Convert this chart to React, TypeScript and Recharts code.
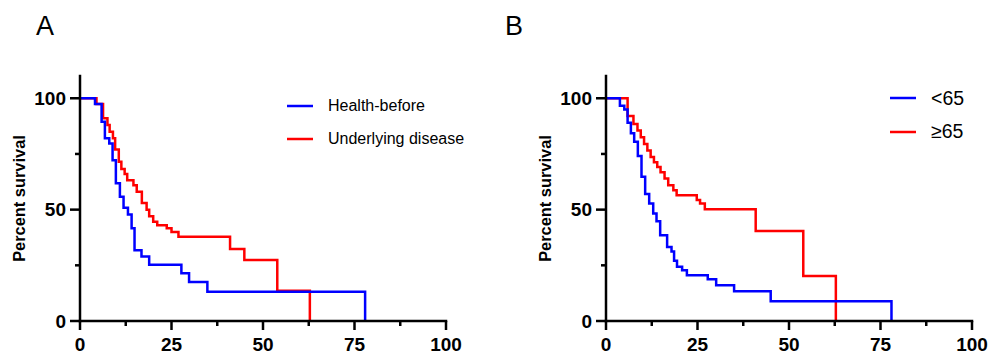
import { LineChart, Line, XAxis, YAxis, Legend } from 'recharts';

// Panel A: Health-before vs Underlying disease (time, percent survival)
const healthT = [0, 4.1, 5.9, 6.8, 8, 8.9, 9.8, 10.9, 11.9, 13.1, 14.1, 14.9, 16.8, 18.9, 27.7, 29.8, 34.8, 77.9];
const healthS = [100, 97.4, 89.5, 82, 79.7, 72.2, 61.8, 55.8, 50.8, 47.8, 41.6, 31.8, 29, 25.3, 21.4, 17.5, 13.1, 0];

const diseaseT = [0, 4.5, 6.3, 7.5, 8.1, 9.0, 9.6, 10.6, 11.3, 12.2, 12.9, 14.6, 15.5, 16.9, 18.2, 18.9, 20, 21.1, 23.7, 25, 26.9, 41, 44.9, 53.9, 62.8];
const diseaseS = [100, 97.4, 91, 88, 85, 82, 77, 71.5, 68.3, 66, 63.2, 61, 58, 53, 50, 47, 44.6, 43, 41.6, 40, 37.8, 32.3, 27.4, 13.6, 0];

// Panel B: <65 vs ≥65
const youngT = [0, 3.8, 5, 5.9, 6.8, 7.7, 8.7, 9.7, 10.7, 11.8, 12.9, 13.8, 14.8, 16.7, 17.9, 18.6, 19.4, 20.8, 22.1, 27.8, 30.1, 35, 45, 78];
const youngS = [100, 96.6, 95, 89, 84.3, 80.5, 74.1, 64.8, 57, 52.7, 48.3, 44.8, 38.5, 33.2, 31.2, 27, 24.4, 22.8, 20.5, 18.7, 16, 13.4, 8.9, 0];

const oldT = [0, 5.9, 7.5, 8.6, 9.5, 10.4, 11.3, 12.2, 13.1, 14.0, 14.9, 16.0, 17.0, 18.4, 19.3, 24.8, 25.7, 27.0, 40.9, 53.9, 62.8];
const oldS = [100, 92, 88.5, 85.5, 82.5, 79.5, 76.5, 73.6, 71.3, 69.1, 66.8, 64, 61, 58.7, 56.5, 54.3, 52.8, 50.2, 40.4, 20.2, 0];

const xTicks = [0, 12.5, 25, 37.5, 50, 62.5, 75, 87.5, 100];
const yTicks = [0, 25, 50, 75, 100];

const FONT = '"Liberation Sans", Arial, Helvetica, sans-serif';
const BLUE = '#0000ff';
const RED = '#ff0000';

const toRows = (t: number[], s: number[]) => t.map((v, i) => ({ t: v, s: s[i] }));

const XTick = ({ x, y, payload }: any) => {
  const major = payload.value % 25 === 0;
  return (
    <g>
      <line x1={x} x2={x} y1={y} y2={y + (major ? 9 : 5)} stroke="#000" strokeWidth={2.5} />
      {major && (
        <text x={x} y={y + 30} textAnchor="middle" fontFamily={FONT} fontWeight="bold" fontSize={19} fill="#000">
          {payload.value}
        </text>
      )}
    </g>
  );
};

const YTick = ({ x, y, payload }: any) => {
  const major = payload.value % 50 === 0;
  return (
    <g>
      <line x1={x} x2={x - (major ? 10 : 5)} y1={y} y2={y} stroke="#000" strokeWidth={2.5} />
      {major && (
        <text x={x - 14} y={y} dy="0.36em" textAnchor="end" fontFamily={FONT} fontWeight="bold" fontSize={19} fill="#000">
          {payload.value}
        </text>
      )}
    </g>
  );
};

const YLabel = ({ viewBox }: any) => {
  const cx = viewBox.x - 1;
  const cy = viewBox.y + viewBox.height / 2;
  return (
    <text
      x={cx}
      y={cy}
      transform={`rotate(-90, ${cx}, ${cy})`}
      textAnchor="middle"
      dominantBaseline="central"
      fontFamily={FONT}
      fontWeight="bold"
      fontSize={16.4}
      fill="#000"
    >
      Percent survival
    </text>
  );
};

type Item = { name: string; color: string };

const LegendBox = ({ items, fontSize, rowH }: { items: Item[]; fontSize: number; rowH: number }) => (
  <div>
    {items.map((it) => (
      <div key={it.name} style={{ display: 'flex', alignItems: 'center', height: rowH }}>
        <svg width={26} height={4} style={{ display: 'block' }}>
          <line x1={0} x2={26} y1={2} y2={2} stroke={it.color} strokeWidth={2.5} />
        </svg>
        <span style={{ marginLeft: 15, fontSize, fontFamily: FONT, color: '#000', lineHeight: 1, whiteSpace: 'nowrap' }}>
          {it.name}
        </span>
      </div>
    ))}
  </div>
);

type PanelProps = {
  left: number;
  width: number;
  margin: { top: number; right: number; bottom: number; left: number };
  series: { name: string; color: string; t: number[]; s: number[] }[];
  legendLeft: number;
  legendTop: number;
  legendFont: number;
  legendRow: number;
};

function Panel({ left, width, margin, series, legendLeft, legendTop, legendFont, legendRow }: PanelProps) {
  return (
    <div style={{ position: 'absolute', left, top: 0 }}>
      <LineChart width={width} height={356} margin={margin}>
        <XAxis
          dataKey="t"
          type="number"
          domain={[0, 100]}
          ticks={xTicks}
          interval={0}
          height={35}
          tickSize={0}
          tickMargin={0}
          tick={<XTick />}
          axisLine={{ stroke: '#000', strokeWidth: 2.5, strokeLinecap: 'square' }}
          allowDecimals
        />
        <YAxis
          dataKey="s"
          type="number"
          domain={[0, 110]}
          ticks={yTicks}
          interval={0}
          width={60}
          tickSize={0}
          tickMargin={0}
          tick={<YTick />}
          axisLine={{ stroke: '#000', strokeWidth: 2.5, strokeLinecap: 'square' }}
          label={<YLabel />}
        />
        <Legend
          layout="vertical"
          align="center"
          verticalAlign="middle"
          wrapperStyle={{ left: legendLeft, top: legendTop, width: 'auto' }}
          content={() => <LegendBox items={series.map((s) => ({ name: s.name, color: s.color }))} fontSize={legendFont} rowH={legendRow} />}
        />
        {[...series].reverse().map((s) => (
          <Line
            key={s.name}
            name={s.name}
            data={toRows(s.t, s.s)}
            dataKey="s"
            type="stepAfter"
            stroke={s.color}
            strokeWidth={2.5}
            dot={false}
            activeDot={false}
            isAnimationActive={false}
          />
        ))}
      </LineChart>
    </div>
  );
}

export default function App() {
  return (
    <div style={{ position: 'absolute', left: 0, top: 0, width: 989, height: 356, background: '#fff', overflow: 'hidden' }}>
      <div style={{ position: 'absolute', left: 36, top: 13, fontFamily: FONT, fontSize: 27, lineHeight: 1, color: '#000' }}>A</div>
      <div style={{ position: 'absolute', left: 505, top: 13, fontFamily: FONT, fontSize: 27, lineHeight: 1, color: '#000' }}>B</div>
      <Panel
        left={0}
        width={495}
        margin={{ top: 76, right: 49, bottom: 0, left: 20 }}
        series={[
          { name: 'Health-before', color: BLUE, t: healthT, s: healthS },
          { name: 'Underlying disease', color: RED, t: diseaseT, s: diseaseS },
        ]}
        legendLeft={287}
        legendTop={89.5}
        legendFont={16}
        legendRow={33}
      />
      <Panel
        left={495}
        width={494}
        margin={{ top: 76, right: 17, bottom: 0, left: 51 }}
        series={[
          { name: '<65', color: BLUE, t: youngT, s: youngS },
          { name: '≥65', color: RED, t: oldT, s: oldS },
        ]}
        legendLeft={395}
        legendTop={81.6}
        legendFont={19.5}
        legendRow={33.4}
      />
    </div>
  );
}
